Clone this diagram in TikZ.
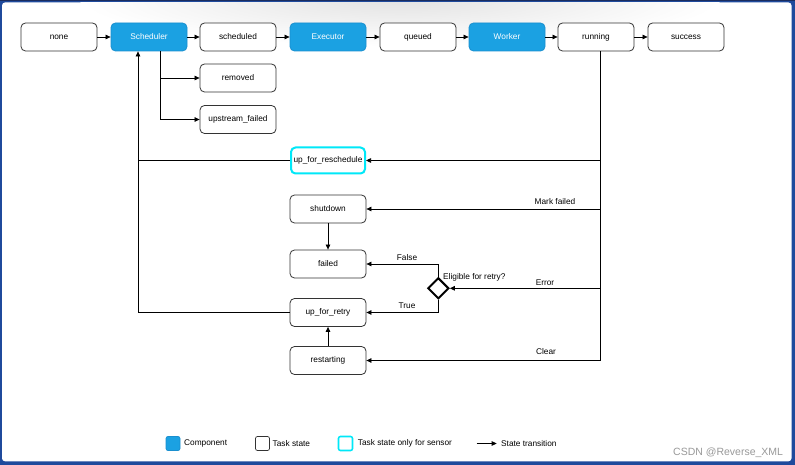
\documentclass[tikz,border=0pt]{standalone}
\usepackage{fontspec}
\setmainfont{Liberation Sans}
\usetikzlibrary{arrows.meta,shapes.geometric,calc}
\definecolor{compblue}{HTML}{1BA1E2}
\definecolor{compedge}{HTML}{1A8FCF}
\definecolor{sensorcyan}{HTML}{00E8F8}
\definecolor{frameblue}{HTML}{1F4A9C}
\definecolor{framedark}{HTML}{1A2C5E}
\begin{document}
\begin{tikzpicture}[x=1pt,y=-1pt,
  every node/.style={font=\fontsize{8.3}{10}\selectfont, inner sep=0pt},
  state/.style={draw=black!80, line width=0.8pt, rounded corners=4.5pt, fill=white,
                minimum width=76pt, minimum height=28pt},
  comp/.style={state, draw=compedge, fill=compblue, text=white},
  sensor/.style={state, draw=sensorcyan, line width=2pt, minimum width=74pt, minimum height=26pt},
  decision/.style={diamond, draw=black, line width=2pt, fill=white,
                   minimum width=21pt, minimum height=21pt},
  arr/.style={draw=black, line width=0.75pt, -{Triangle[length=5pt,width=4.5pt]}},
  link/.style={draw=black, line width=0.75pt},
  lbl/.style={font=\fontsize{8.3}{10}\selectfont},
  swatch/.style={rounded corners=2pt, minimum width=14pt, minimum height=14pt, line width=0.7pt}
]
% window frame
\fill[framedark] (0,0) rectangle (795,465);
\fill[frameblue] (0,1) rectangle (795,465);
\fill[white, rounded corners=3pt] (2,2.5) rectangle (791.5,461.3);
\begin{scope}
  \clip (2,2.5) rectangle (791.5,461.3);
  \shade[inner color=black!11, outer color=white] (400,0) ellipse [x radius=320, y radius=46];
\end{scope}

% main chain
\node[state] (none)      at (59,37)  {none};
\node[comp]  (sched)     at (149,37) {Scheduler};
\node[state] (scheduled) at (238,37) {scheduled};
\node[comp]  (exec)      at (328,37) {Executor};
\node[state] (queued)    at (418,37) {queued};
\node[comp]  (worker)    at (507,37) {Worker};
\node[state] (running)   at (596,37) {running};
\node[state] (success)   at (686,37) {success};

% scheduler outcomes
\node[state] (removed)  at (238,78)    {removed};
\node[state] (upfailed) at (238,119.5) {upstream\_failed};

% states reached from running
\node[sensor] (resched)  at (328,160.5) {up\_for\_reschedule};
\node[state]  (shutdown) at (328,209)   {shutdown};
\node[state]  (failed)   at (328,264)   {failed};
\node[state]  (retry)    at (328,312.5) {up\_for\_retry};
\node[state]  (restart)  at (328,360.5) {restarting};
\node[decision] (elig)   at (438.3,288.3) {};

% labels
\node[lbl] (lmark)  at (555,202)   {Mark failed};
\node[lbl] (lerror) at (545,283)   {Error};
\node[lbl] (lclear) at (546,352)   {Clear};
\node[lbl] (lfalse) at (407,257.5) {False};
\node[lbl] (ltrue)  at (407,305.5) {True};
\node[lbl, anchor=west] (lelig) at (443,277) {Eligible for retry?};

% chain transitions
\draw[arr] (none) -- (sched);
\draw[arr] (sched) -- (scheduled);
\draw[arr] (scheduled) -- (exec);
\draw[arr] (exec) -- (queued);
\draw[arr] (queued) -- (worker);
\draw[arr] (worker) -- (running);
\draw[arr] (running) -- (success);

% scheduler branch
\coordinate (branch) at ($(sched.south)+(11,0)$);
\draw[arr] (branch) |- (removed);
\draw[arr] (branch) |- (upfailed);

% bus down from running
\coordinate (rbus) at ($(running.south)+(4,0)$);
\draw[link] (rbus) -- (rbus |- restart);
\draw[arr] (rbus |- resched) -- (resched);
\draw[arr] (rbus |- shutdown) -- (shutdown);
\draw[arr] (rbus |- elig) -- (elig.east);
\draw[arr] (rbus |- restart) -- (restart);

% retry decision
\draw[arr] (elig.north) |- (failed);
\draw[arr] (elig.south) |- (retry);
\draw[arr] (shutdown) -- (failed);
\draw[arr] (restart) -- (retry);

% back to the scheduler
\coordinate (lbus) at ($(sched.south)+(-11,0)$);
\draw[arr] (retry.west) -| (lbus);
\draw[link] (resched.west) -- (resched.west -| lbus);

% legend
\node[swatch, draw=compedge, fill=compblue] (swcomp) at (173,443.5) {};
\node[anchor=west] (txcomp) at (184,443.5) {Component};
\node[swatch, draw=black!80] (swstate) at (262.5,443.5) {};
\node[anchor=west] (txstate) at (272.5,443.5) {Task state};
\node[swatch, draw=sensorcyan, line width=1.6pt] (swsensor) at (345.5,443.5) {};
\node[anchor=west] (txsensor) at (357.7,443.5) {Task state only for sensor};
\coordinate (lga) at (476.7,443.5);
\coordinate (lgb) at (496.7,443.5);
\draw[arr] (lga) -- (lgb);
\node[anchor=west] (txtrans) at (501,443.5) {State transition};

\node[anchor=west, text=black!40, font=\fontsize{10.5}{12}\selectfont] (wm) at (673,452.5) {CSDN @Reverse\_XML};
\end{tikzpicture}
\end{document}
